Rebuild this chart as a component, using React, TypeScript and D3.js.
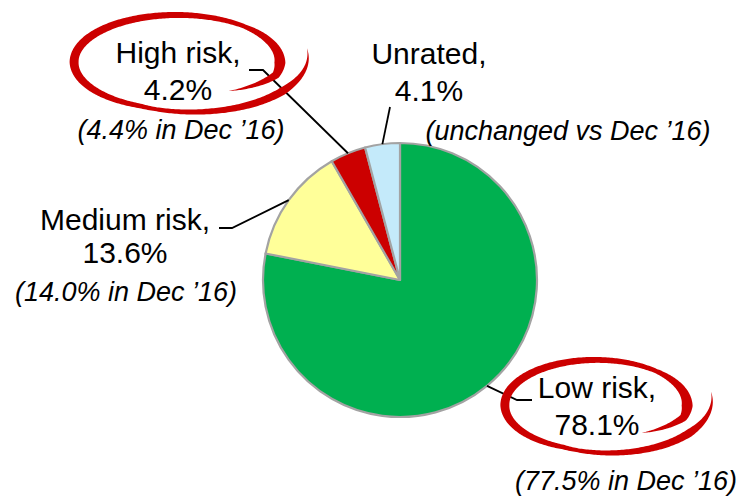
import { useEffect, useRef } from "react"
import * as d3 from "d3"

// risk buckets, clockwise from 12 o'clock
const categories = ["Low risk", "Medium risk", "High risk", "Unrated"]
const shares = [78.1, 13.6, 4.2, 4.1]
const priorNotes = ["(77.5% in Dec ’16)", "(14.0% in Dec ’16)", "(4.4% in Dec ’16)", "(unchanged vs Dec ’16)"]
const highlighted = ["Low risk", "High risk"]

const sliceColors: Record<string, string> = {
  "Low risk": "#00b050",
  "Medium risk": "#ffff99",
  "High risk": "#cc0000",
  Unrated: "#c4eafa",
}

type LabelLayout = {
  elbow: [number, number] | null
  end: [number, number]
  x: number
  y: [number, number]
  noteX: number
  noteY: number
  swoosh?: { cx: number; cy: number; rx: number; ry: number }
}

const layout: Record<string, LabelLayout> = {
  "Low risk": {
    elbow: [517, 400],
    end: [532, 400],
    x: 597,
    y: [398, 435],
    noteX: 626,
    noteY: 490,
    swoosh: { cx: 596, cy: 405, rx: 93, ry: 46 },
  },
  "Medium risk": { elbow: [232, 228], end: [219, 228], x: 125, y: [230, 263], noteX: 126, noteY: 301 },
  "High risk": {
    elbow: [263, 70],
    end: [249, 70],
    x: 178,
    y: [63, 100],
    noteX: 181,
    noteY: 139,
    swoosh: { cx: 177, cy: 62, rx: 105, ry: 48 },
  },
  Unrated: { elbow: null, end: [390, 107], x: 429, y: [64, 101], noteX: 568, noteY: 140 },
}

const FONT = "'Liberation Sans', Arial, Helvetica, sans-serif"

// hand drawn red ring: a spiral centre line with a varying stroke width
function swooshPath(cx: number, cy: number, rx: number, ry: number) {
  const radius = d3.scaleLinear().domain([0, 35, 300, 360, 424]).range([0.78, 0.98, 0.98, 1.13, 1.27]).clamp(true)
  const width = d3.scaleLinear().domain([0, 50, 100, 231, 310, 380, 424]).range([0, 11, 4.5, 9, 4, 8, 0]).clamp(true)
  const steps = d3.range(0, 424.5, 1)
  const pts = steps.map((s) => {
    const phi = ((51 - s) * Math.PI) / 180
    const k = radius(s)
    return [cx + rx * k * Math.cos(phi), cy + ry * k * Math.sin(phi)]
  })
  const left: [number, number][] = []
  const right: [number, number][] = []
  pts.forEach((p, i) => {
    const a = pts[Math.max(0, i - 1)]
    const b = pts[Math.min(pts.length - 1, i + 1)]
    const tx = b[0] - a[0]
    const ty = b[1] - a[1]
    const len = Math.hypot(tx, ty) || 1
    const nx = -ty / len
    const ny = tx / len
    const w = width(steps[i]) / 2
    left.push([p[0] + nx * w, p[1] + ny * w])
    right.push([p[0] - nx * w, p[1] - ny * w])
  })
  const poly = left.concat(right.reverse())
  return (d3.line()(poly) ?? "") + "Z"
}

export default function App() {
  const svgRef = useRef<SVGSVGElement | null>(null)

  useEffect(() => {
    if (!svgRef.current) return
    const svg = d3.select(svgRef.current)
    svg.selectAll("*").remove()

    const width = 740
    const height = 498
    const cx = 400
    const cy = 280
    const r = 137

    svg.attr("viewBox", `0 0 ${width} ${height}`).attr("width", width).attr("height", height)

    svg.append("rect").attr("width", width).attr("height", height).attr("fill", "#fff")

    const data = categories.map((c, i) => ({ category: c, value: shares[i], note: priorNotes[i] }))

    const pie = d3
      .pie<{ category: string; value: number; note: string }>()
      .sort(null)
      .value((d) => d.value)
      .startAngle(0)
      .endAngle(Math.PI * 2)

    const arcs = pie(data)
    const arc = d3.arc<d3.PieArcDatum<(typeof data)[number]>>().innerRadius(0).outerRadius(r)
    const rim = d3.arc<d3.PieArcDatum<(typeof data)[number]>>().innerRadius(r).outerRadius(r)

    const g = svg.append("g").attr("transform", `translate(${cx},${cy})`)

    g.selectAll("path")
      .data(arcs)
      .join("path")
      .attr("d", arc)
      .attr("fill", (d) => sliceColors[d.data.category])
      .attr("stroke", "#a3a3a3")
      .attr("stroke-width", 2.2)
      .attr("stroke-linejoin", "round")

    // leader lines
    arcs.forEach((d) => {
      const lay = layout[d.data.category]
      const [px, py] = rim.centroid(d)
      const pts: [number, number][] = [[cx + px, cy + py]]
      if (lay.elbow) pts.push(lay.elbow)
      pts.push(lay.end)
      svg
        .append("path")
        .attr("d", d3.line()(pts))
        .attr("fill", "none")
        .attr("stroke", "#000")
        .attr("stroke-width", 1.8)
    })

    // red rings round the highlighted buckets
    data
      .filter((d) => highlighted.includes(d.category))
      .forEach((d) => {
        const s = layout[d.category].swoosh
        if (!s) return
        svg.append("path").attr("d", swooshPath(s.cx, s.cy, s.rx, s.ry)).attr("fill", "#cc0000")
      })

    // labels
    data.forEach((d) => {
      const lay = layout[d.category]
      svg
        .append("text")
        .attr("x", lay.x)
        .attr("y", lay.y[0])
        .attr("text-anchor", "middle")
        .attr("font-family", FONT)
        .attr("font-size", 30)
        .attr("fill", "#000")
        .text(`${d.category},`)
      svg
        .append("text")
        .attr("x", lay.x)
        .attr("y", lay.y[1])
        .attr("text-anchor", "middle")
        .attr("font-family", FONT)
        .attr("font-size", 30)
        .attr("fill", "#000")
        .text(`${d.value.toFixed(1)}%`)
      svg
        .append("text")
        .attr("x", lay.noteX)
        .attr("y", lay.noteY)
        .attr("text-anchor", "middle")
        .attr("font-family", FONT)
        .attr("font-size", 27)
        .attr("font-style", "italic")
        .attr("fill", "#000")
        .text(d.note)
    })
  }, [])

  return (
    <svg
      ref={svgRef}
      style={{ position: "absolute", left: 0, top: 0, display: "block" }}
    />
  )
}
